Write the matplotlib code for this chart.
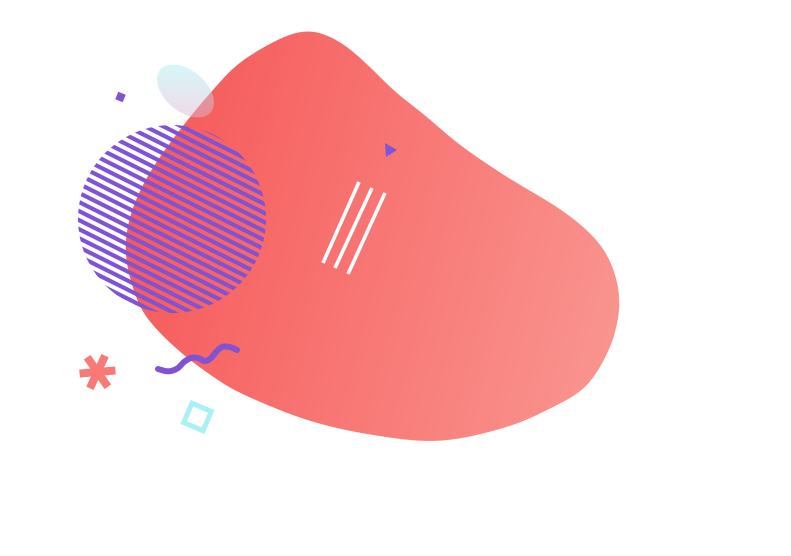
import numpy as np
import matplotlib
matplotlib.use("Agg")
import matplotlib.pyplot as plt
from matplotlib.patches import Polygon, Circle, Ellipse

W, H = 791, 556

# outline of the big red blob (pixel coords, y down)
blob_x = [300, 337, 370, 393, 427, 460, 507, 557, 590, 610, 620, 613, 600, 583, 547, 507,
          440, 373, 307, 240, 215, 190, 167, 143, 132, 126, 126, 133, 147, 167, 190, 213, 243]
blob_y = [31, 40, 67, 90, 117, 145, 177, 207, 233, 260, 300, 340, 367, 390, 410, 427,
          441, 435, 420, 393, 378, 360, 340, 313, 285, 260, 235, 207, 177, 147, 117, 90, 60]
blob_colors = ["#F65757", "#FA948F"]

# striped disc
disc_center = (172, 219)
disc_radius = 94
stripe_angle = 26.5
stripe_gap = 8.1
stripe_color = "#8052D4"

# purple squiggle
wave_x = [158, 165, 171, 178, 184, 191, 198, 205, 211, 216, 222, 230, 237]
wave_y = [369, 371, 371, 368, 362, 358, 358, 361, 358, 352, 347, 347, 350]

# three white strokes
stroke_top = [(359, 182), (372, 188), (385, 193)]
stroke_bottom = [(323, 263), (335, 268), (348, 274)]

# small pieces
triangle_pts = [(385, 143), (397, 150), (386, 157)]
dot_center, dot_size, dot_angle = (120.5, 97), 8, 22
star_center, star_arm, star_base_angle = (97.5, 372), 18, -5
box_center, box_side, box_angle = (197.5, 417), 21, 23
bubble_center, bubble_w, bubble_h, bubble_angle = (185.5, 91), 66, 41, 40


def catmull(pts, closed=True, n=24):
    P = np.asarray(pts, float)
    if not closed:
        P = np.vstack([P[0], P, P[-1]])
    N = len(P)
    rng = range(N) if closed else range(1, N - 2)
    t = np.linspace(0, 1, n, endpoint=False)[:, None]
    out = []
    for i in rng:
        p0, p1, p2, p3 = P[i - 1], P[i], P[(i + 1) % N], P[(i + 2) % N]
        seg = 0.5 * (2 * p1 + (-p0 + p2) * t + (2 * p0 - 5 * p1 + 4 * p2 - p3) * t ** 2
                     + (-p0 + 3 * p1 - 3 * p2 + p3) * t ** 3)
        out.append(seg)
    if not closed:
        out.append(P[-2][None, :])
    return np.vstack(out)


def smooth_closed(curve, sigma=11.0):
    # resample by arc length, then circular gaussian smoothing
    c = np.vstack([curve, curve[:1]])
    s = np.concatenate([[0], np.cumsum(np.hypot(*np.diff(c, axis=0).T))])
    L = s[-1]
    n = int(L)
    u = np.linspace(0, L, n, endpoint=False)
    x = np.interp(u, s, c[:, 0])
    y = np.interp(u, s, c[:, 1])
    k = np.arange(-int(4 * sigma), int(4 * sigma) + 1)
    g = np.exp(-0.5 * (k / sigma) ** 2)
    g /= g.sum()
    xs = np.array([np.sum(g * np.take(x, i + k, mode="wrap")) for i in range(n)])
    ys = np.array([np.sum(g * np.take(y, i + k, mode="wrap")) for i in range(n)])
    return np.column_stack([xs, ys])


def hex_rgb(h):
    return np.array(matplotlib.colors.to_rgb(h))


def gradient_image(ax, clip, c0, c1, ang_deg, lo, hi, z, alpha=1.0):
    xx, yy = np.meshgrid(np.arange(W) + 0.5, np.arange(H) + 0.5)
    a = np.deg2rad(ang_deg)
    s = xx * np.cos(a) + yy * np.sin(a)
    f = np.clip((s - lo) / (hi - lo), 0, 1)[..., None]
    img = (1 - f) * hex_rgb(c0) + f * hex_rgb(c1)
    im = ax.imshow(img, extent=(0, W, H, 0), origin="upper", zorder=z,
                   interpolation="bilinear", aspect="auto", alpha=alpha)
    im.set_clip_path(clip)
    return im


fig = plt.figure(figsize=(W / 100, H / 100), dpi=100)
ax = fig.add_axes([0, 0, 1, 1])
ax.set_xlim(0, W)
ax.set_ylim(H, 0)
ax.axis("off")

# blob
outline = smooth_closed(catmull(list(zip(blob_x, blob_y))))
blob = Polygon(outline, closed=True, facecolor="none", edgecolor="none", zorder=1)
ax.add_patch(blob)
gradient_image(ax, blob, blob_colors[0], blob_colors[1], 15, 150, 680, 1)

# bubble
bub = Ellipse(bubble_center, bubble_w, bubble_h, angle=bubble_angle,
              facecolor="none", edgecolor="none", zorder=2)
ax.add_patch(bub)
gradient_image(ax, bub, "#B0EDF2", "#E0B8D2", 90, 68, 116, 2, alpha=0.5)

# striped disc
disc = Circle(disc_center, disc_radius, facecolor="none", edgecolor="none")
ax.add_patch(disc)
a = np.deg2rad(stripe_angle)
d = np.array([np.cos(a), np.sin(a)])
nrm = np.array([-np.sin(a), np.cos(a)])
for k in np.arange(-12, 13):
    c = np.array(disc_center) + nrm * (k * stripe_gap + 2)
    p = np.vstack([c - d * 120, c + d * 120])
    ln, = ax.plot(p[:, 0], p[:, 1], color=stripe_color, lw=3.0,
                  solid_capstyle="butt", zorder=3)
    ln.set_clip_path(disc)

# squiggle
wv = catmull(list(zip(wave_x, wave_y)), closed=False, n=12)
ax.plot(wv[:, 0], wv[:, 1], color="#8152D2", lw=4.3, solid_capstyle="round",
        solid_joinstyle="round", zorder=3)

# white strokes
for (x0, y0), (x1, y1) in zip(stroke_top, stroke_bottom):
    ax.plot([x0, x1], [y0, y1], color="white", lw=2.6, solid_capstyle="butt", zorder=4)

# triangle
ax.add_patch(Polygon(triangle_pts, closed=True, facecolor="#7E55D8",
                     edgecolor="none", zorder=4))

# small purple square
t = np.deg2rad(dot_angle + np.array([45, 135, 225, 315]))
r = dot_size / np.sqrt(2)
sq = np.column_stack([dot_center[0] + r * np.cos(t), dot_center[1] + r * np.sin(t)])
ax.add_patch(Polygon(sq, closed=True, facecolor="#7F53D6", edgecolor="none", zorder=4))

# asterisk
for i in range(3):
    b = np.deg2rad(star_base_angle + 60 * i)
    u = np.array([np.cos(b), np.sin(b)])
    v = np.array([-np.sin(b), np.cos(b)])
    cc = np.array(star_center)
    hw = 4.0
    bar = np.vstack([cc - u * star_arm - v * hw, cc + u * star_arm - v * hw,
                     cc + u * star_arm + v * hw, cc - u * star_arm + v * hw])
    bp = Polygon(bar, closed=True, facecolor="none", edgecolor="none", zorder=4)
    ax.add_patch(bp)
    gradient_image(ax, bp, "#F65656", "#F87A76", 20, 80, 125, 4)

# cyan outlined square
t = np.deg2rad(box_angle + np.array([45, 135, 225, 315]))
r = box_side / np.sqrt(2)
bx = np.column_stack([box_center[0] + r * np.cos(t), box_center[1] + r * np.sin(t)])
ax.add_patch(Polygon(bx, closed=True, facecolor="none", edgecolor="#AAF0F5",
                     lw=3.6, joinstyle="miter", zorder=4))

fig.savefig("out.png", dpi=100, facecolor="white")
